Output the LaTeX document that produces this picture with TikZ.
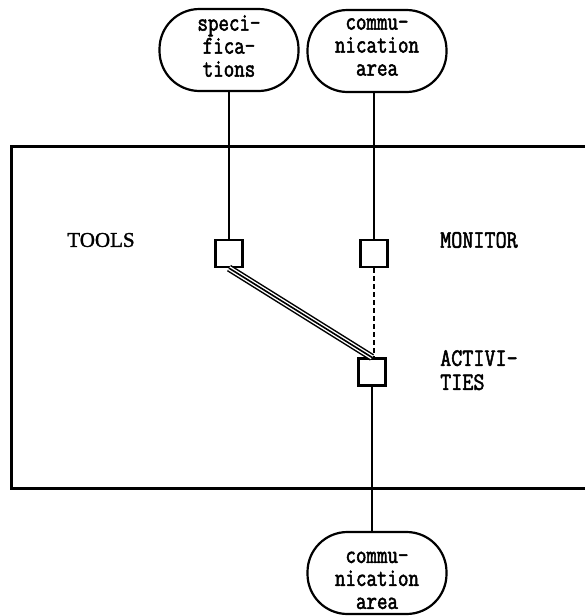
\documentclass[tikz,border=0pt]{standalone}
\usepackage{fontspec}
\setmonofont{Latin Modern Mono}[FakeStretch=0.86, FakeBold=2]
\newfontfamily\areafont{Latin Modern Mono}[FakeStretch=0.8, FakeBold=2]
\newfontfamily\toolsfont{Liberation Serif}[FakeBold=1.5]
\usetikzlibrary{calc}
\tikzset{
  area/.style={draw, line width=2.2pt, rounded corners=40pt, minimum width=139pt,
      minimum height=82pt, align=center, inner sep=0pt,
      font=\areafont\fontsize{25.5}{23}\selectfont},
  port/.style={draw, line width=2.2pt, fill=white, minimum width=27pt, minimum height=27pt, inner sep=0pt},
  tag/.style={inner sep=0pt, align=left, font=\ttfamily\fontsize{25}{24}\selectfont},
  link/.style={line width=2.3pt},
}

\begin{document}
\begin{tikzpicture}[x=1pt, y=-1pt]
  \useasboundingbox (0,0) rectangle (585,616);
  % environment box, open to the right
  \draw[line width=3pt] (600,146) -- (11,146) -- (11,488) -- (600,488);
  % areas
  \node[area] (spec) at (229,50) {speci-\\fica-\\tions\rule[-8pt]{0pt}{0pt}};
  \node[area] (commtop) at (377,51) {commu-\\nication\\area\rule[-8pt]{0pt}{0pt}};
  \node[area] (commbot) at (377,573) {\rule{0pt}{26pt}commu-\\nication\\area};
  % ports
  \node[port] (toolbox) at (229,253.5) {};
  \node[port] (monbox) at (374,253.5) {};
  \node[port] (actbox) at (372,372) {};
  % labels
  \node[inner sep=0pt, font=\toolsfont\fontsize{21}{24}\selectfont] (tools) at (101,240) {TOOLS};
  \node[tag, anchor=west] (monitor) at (440,240) {MONITOR};
  \node[tag, anchor=north west] (activities) at (440,350) {ACTIVI-\\TIES};
  % connectors
  \draw[link] (spec.south) -- (toolbox.north);
  \draw[link] (commtop.south -| monbox) -- (monbox.north);
  \draw[link, dashed, dash pattern=on 5pt off 3pt] (monbox.south) -- (actbox.north -| monbox);
  \draw[link] (actbox.south) -- (actbox.south |- commbot.north);
  \foreach \w/\c in {7.4pt/black, 4.4pt/white, 1.6pt/black}
    \draw[line width=\w, \c] (toolbox.south) -- (actbox.north);
\end{tikzpicture}
\end{document}
